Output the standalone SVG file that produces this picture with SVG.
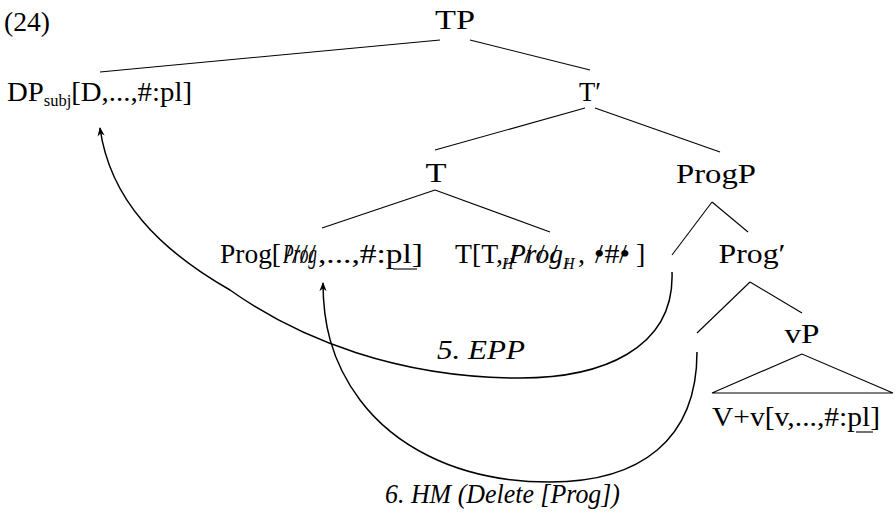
<svg xmlns="http://www.w3.org/2000/svg" width="895" height="520" viewBox="0 0 895 520">
<defs>
<style>
text{font-family:"Liberation Serif","Times New Roman",serif;font-size:28px;fill:#000}
.it{font-style:italic}
.sub{font-size:16px}
.edge{stroke:#000;stroke-width:1.1;fill:none}
.arc{stroke:#000;stroke-width:1.5;fill:none}
.ul{stroke:#000;stroke-width:1.1}
</style>
<marker id="ah" viewBox="0 0 10 10" refX="9" refY="5" markerWidth="9" markerHeight="9" markerUnits="userSpaceOnUse" orient="auto">
<path d="M0,1 L10,5 L0,9 L3,5 Z" fill="#000"/>
</marker>
</defs>
<rect width="895" height="520" fill="#fff"/>
<text x="4" y="31" textLength="46" lengthAdjust="spacingAndGlyphs">(24)</text>
<g id="edges">
<line class="edge" x1="440" y1="40" x2="100" y2="72"/>
<line class="edge" x1="470" y1="40" x2="590" y2="70"/>
<line class="edge" x1="585" y1="108" x2="435" y2="150"/>
<line class="edge" x1="595" y1="108" x2="720" y2="152"/>
<line class="edge" x1="435" y1="190" x2="322" y2="228"/>
<line class="edge" x1="435" y1="190" x2="550" y2="232"/>
<line class="edge" x1="712" y1="202" x2="672" y2="255"/>
<line class="edge" x1="712" y1="202" x2="748" y2="232"/>
<line class="edge" x1="750" y1="282" x2="697" y2="333"/>
<line class="edge" x1="750" y1="282" x2="802" y2="313"/>
</g>
<g id="n-TP"><text x="455" y="29" text-anchor="middle" textLength="40" lengthAdjust="spacingAndGlyphs">TP</text></g>
<g id="n-DP"><text x="7" y="101" textLength="185" lengthAdjust="spacingAndGlyphs">DP<tspan class="sub" dy="5">subj</tspan><tspan dy="-5">[D,...,#:pl]</tspan></text></g>
<g id="n-Tbar"><text x="590" y="101" text-anchor="middle" textLength="22" lengthAdjust="spacingAndGlyphs">T′</text></g>
<g id="n-T"><text x="436" y="182" text-anchor="middle" textLength="21" lengthAdjust="spacingAndGlyphs">T</text></g>
<g id="n-ProgP"><text x="716" y="183" text-anchor="middle" textLength="80" lengthAdjust="spacingAndGlyphs">ProgP</text></g>
<g id="n-Prog">
<text x="220" y="263" textLength="61" lengthAdjust="spacingAndGlyphs">Prog[</text>
<text x="283" y="263" class="it" textLength="34" lengthAdjust="spacingAndGlyphs">Prog</text>
<text x="284" y="263">/</text><text x="292" y="263">/</text><text x="300" y="263">/</text><text x="308" y="263">/</text>
<text x="318" y="263" textLength="105" lengthAdjust="spacingAndGlyphs">,...,#:pl]</text>
<line class="ul" x1="393" y1="269" x2="417" y2="269"/>
</g>
<g id="n-Tcomp">
<text x="455" y="263" textLength="48" lengthAdjust="spacingAndGlyphs">T[T,</text>
<text x="502" y="269" class="it sub">H</text><text x="504" y="269" class="sub">/</text>
<text x="509" y="263" class="it" textLength="54" lengthAdjust="spacingAndGlyphs">Prog</text>
<text x="511" y="263">/</text><text x="524" y="263">/</text><text x="537" y="263">/</text><text x="550" y="263">/</text>
<text x="563" y="269" class="it sub">H</text><text x="565" y="269" class="sub">/</text>
<text x="578" y="263">,</text>
<text x="594" y="263" textLength="36" lengthAdjust="spacingAndGlyphs">•#•</text>
<text x="595" y="263">/</text><text x="619" y="263">/</text>
<text x="636" y="263">]</text>
</g>
<g id="n-Progbar"><text x="752" y="263" text-anchor="middle" textLength="67" lengthAdjust="spacingAndGlyphs">Prog′</text></g>
<g id="n-vP"><text x="802" y="343" text-anchor="middle" textLength="35" lengthAdjust="spacingAndGlyphs">vP</text>
<path class="edge" d="M802,354 L712,393 L893,393 Z"/></g>
<g id="n-Vv"><text x="712" y="426" textLength="168" lengthAdjust="spacingAndGlyphs">V+v[v,...,#:pl]</text>
<line class="ul" x1="856" y1="432" x2="873" y2="432"/></g>
<g id="connectors">
<path class="arc" marker-end="url(#ah)" d="M672,272 C675,350 600,378 520,378 C400,378 300,340 230,290 C160,250 110,200 100,128"/>
<path class="arc" marker-end="url(#ah)" d="M697,352 C697,440 640,482 550,482 C450,482 390,440 360,400 C330,360 323,320 323,283"/>
</g>
<text x="437" y="359" class="it" textLength="88" lengthAdjust="spacingAndGlyphs">5. EPP</text>
<text x="385" y="503" class="it" textLength="235" lengthAdjust="spacingAndGlyphs">6. HM (Delete [Prog])</text>
</svg>
